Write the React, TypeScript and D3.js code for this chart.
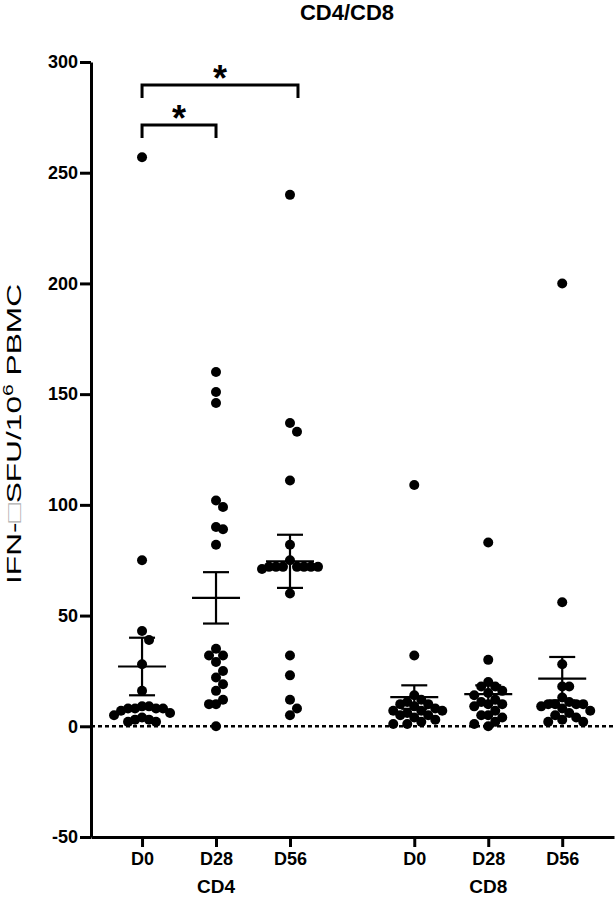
import React, { useEffect, useRef } from 'react';
import * as d3 from 'd3';

const groups = ['CD4', 'CD8'];
const days = ['D0', 'D28', 'D56'];

// IFN SFU per 10^6 PBMC, one array per column
const cd4D0 = [257, 75, 43, 39, 28, 16, 9, 9, 8, 8, 8, 8, 7, 6, 5, 4, 3, 3, 2, 2];
const cd4D28 = [160, 151, 146, 102, 99, 90, 89, 82, 35, 32, 32, 29, 25, 22, 19, 16, 12, 10, 10, 0];
const cd4D56 = [240, 137, 133, 111, 82, 75, 72, 72, 72, 72, 72, 72, 72, 71, 60, 32, 23, 12, 8, 5];
const cd8D0 = [109, 32, 14, 12, 11, 10, 10, 9, 8, 7, 7, 7, 6, 5, 5, 4, 3, 2, 1, 1];
const cd8D28 = [83, 30, 20, 18, 18, 16, 15, 14, 12, 11, 10, 10, 9, 7, 5, 5, 4, 2, 1, 0];
const cd8D56 = [200, 56, 28, 18, 18, 13, 11, 10, 10, 10, 10, 9, 8, 7, 6, 5, 4, 3, 2, 2];

// mean +/- SEM as drawn
const means = [27, 58, 74.5, 13.2, 14.5, 21.5];
const sems = [13, 11.6, 12, 5.3, 4, 9.8];

const yTicks = [-50, 0, 50, 100, 150, 200, 250, 300];

// significance brackets: [from column, to column]
const brackets = [[0, 2], [0, 1]];

const W = 615;
const H = 900;
const FONT = '"Liberation Sans", Arial, sans-serif';

// greedy column scatter: points that sit too close get pushed sideways
function swarm(vals: number[], y: (v: number) => number, rx: number, ry: number, step: number) {
    const sorted = [...vals].sort((a, b) => b - a);
    const placed: { v: number; py: number; dx: number }[] = [];
    for (const v of sorted) {
        const py = y(v);
        for (let k = 0; k < 60; k++) {
            const off = k === 0 ? 0 : (k % 2 ? 1 : -1) * Math.ceil(k / 2) * step;
            const ok = placed.every(q => ((q.dx - off) / rx) ** 2 + ((q.py - py) / ry) ** 2 >= 1);
            if (ok) { placed.push({ v, py, dx: off }); break; }
        }
    }
    return placed;
}

export default function App() {
    const svgRef = useRef<SVGSVGElement>(null);

    useEffect(() => {
        const svg = d3.select(svgRef.current);
        svg.selectAll('*').remove();

        const columns = [cd4D0, cd4D28, cd4D56, cd8D0, cd8D28, cd8D56];
        const gap = 0.68;
        const slot = (i: number) => Math.floor(i / 3) * (3 + gap) + (i % 3);

        const x = d3.scaleLinear().domain([-0.69, 6.38]).range([91, 614]);
        const y = d3.scaleLinear().domain([-50, 300]).range([837, 62]);

        svg.append('text')
            .attr('x', 347).attr('y', 20)
            .attr('text-anchor', 'middle')
            .attr('font-family', FONT).attr('font-weight', 'bold').attr('font-size', 22)
            .text('CD4/CD8');

        // dotted zero line
        svg.append('line')
            .attr('x1', x.range()[0]).attr('x2', x.range()[1])
            .attr('y1', y(0)).attr('y2', y(0))
            .attr('stroke', 'black').attr('stroke-width', 2.5)
            .attr('stroke-dasharray', '4,3');

        // y axis
        const yaxis = svg.append('g')
            .attr('transform', `translate(${x.range()[0]},0)`)
            .call(d3.axisLeft(y).tickValues(yTicks).tickFormat(d => String(d))
                .tickSize(11).tickSizeOuter(0).tickPadding(2));
        yaxis.select('.domain').attr('stroke-width', 3);
        yaxis.selectAll('.tick line').attr('stroke-width', 3);
        yaxis.selectAll('.tick text')
            .attr('font-family', FONT).attr('font-weight', 'bold').attr('font-size', 18).attr('fill', 'black');

        // x axis
        const xaxis = svg.append('g')
            .attr('transform', `translate(0,${y.range()[0]})`)
            .call(d3.axisBottom(x)
                .tickValues(columns.map((_, i) => slot(i)))
                .tickFormat((_, i) => days[i % 3])
                .tickSize(10).tickSizeOuter(0).tickPadding(5));
        xaxis.select('.domain').attr('stroke-width', 3);
        xaxis.selectAll('.tick line').attr('stroke-width', 3);
        xaxis.selectAll('.tick text')
            .attr('font-family', FONT).attr('font-weight', 'bold').attr('font-size', 18).attr('fill', 'black');

        svg.append('g')
            .selectAll('text')
            .data(groups)
            .join('text')
            .attr('x', (_, g) => x(slot(g * 3 + 1)))
            .attr('y', 893)
            .attr('text-anchor', 'middle')
            .attr('font-family', FONT).attr('font-weight', 'bold').attr('font-size', 19)
            .text(d => d);

        // y axis title
        const ylab = svg.append('text')
            .attr('transform', 'rotate(-90)')
            .attr('x', -434).attr('y', 21)
            .attr('text-anchor', 'middle')
            .attr('textLength', 300).attr('lengthAdjust', 'spacingAndGlyphs')
            .attr('font-family', FONT).attr('font-size', 21);
        ylab.append('tspan').text('IFN-');
        ylab.append('tspan').attr('fill', '#b0b0b0').text('\u25A1');
        ylab.append('tspan').text('SFU/10');
        ylab.append('tspan').attr('font-size', 14).attr('dy', -8).text('6');
        ylab.append('tspan').attr('dy', 8).text(' PBMC');

        // points
        const pts = svg.append('g');
        columns.forEach((vals, i) => {
            const cx = x(slot(i));
            pts.append('g')
                .selectAll('circle')
                .data(swarm(vals, y, 7, 10.5, 3.5))
                .join('circle')
                .attr('cx', d => cx + d.dx)
                .attr('cy', d => d.py)
                .attr('r', 5)
                .attr('fill', 'black');
        });

        // mean and SEM
        const err = svg.append('g').attr('stroke', 'black').attr('stroke-width', 2.2);
        means.forEach((m, i) => {
            const cx = x(slot(i));
            const s = sems[i];
            err.append('line').attr('x1', cx - 24).attr('x2', cx + 24).attr('y1', y(m)).attr('y2', y(m));
            err.append('line').attr('x1', cx).attr('x2', cx).attr('y1', y(m + s)).attr('y2', y(m - s));
            err.append('line').attr('x1', cx - 13).attr('x2', cx + 13).attr('y1', y(m + s)).attr('y2', y(m + s));
            err.append('line').attr('x1', cx - 13).attr('x2', cx + 13).attr('y1', y(m - s)).attr('y2', y(m - s));
        });

        // significance brackets
        const bracketY = [85, 125];
        brackets.forEach(([a, b], k) => {
            const x1 = x(slot(a));
            const x2 = x(slot(b)) + (b === 2 ? 8 : 0);
            const by = bracketY[k];
            svg.append('path')
                .attr('d', `M${x1},${by + 13}V${by}H${x2}V${by + 13}`)
                .attr('fill', 'none').attr('stroke', 'black').attr('stroke-width', 3);
            svg.append('text')
                .attr('x', (x1 + x2) / 2).attr('y', by + 6)
                .attr('text-anchor', 'middle')
                .attr('font-family', FONT).attr('font-weight', 'bold').attr('font-size', 36)
                .text('*');
        });
    });

    return (
        <svg
            ref={svgRef}
            width={W}
            height={H}
            style={{ position: 'absolute', left: 0, top: 0, background: 'white' }}
        />
    );
}
